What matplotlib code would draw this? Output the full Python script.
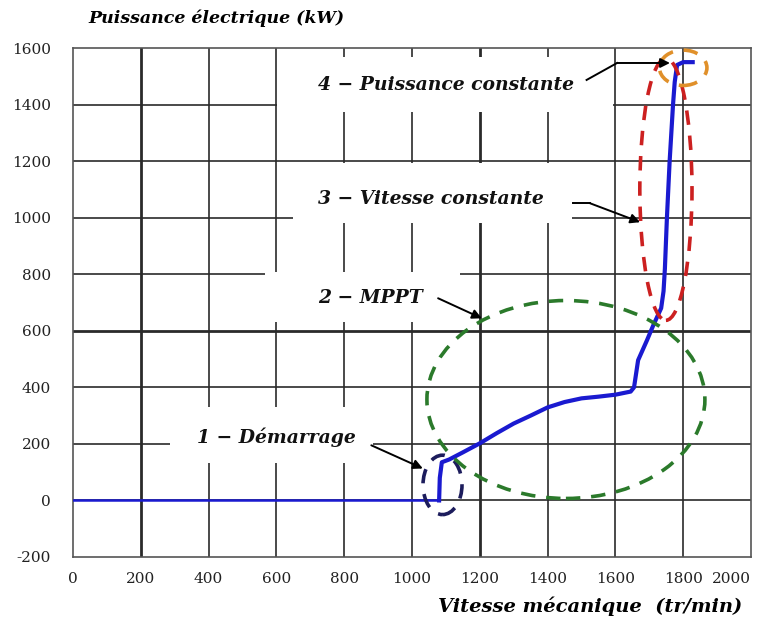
import matplotlib
matplotlib.use("Agg")
import matplotlib.pyplot as plt
from matplotlib.patches import Ellipse, Rectangle

# courbe puissance / vitesse
speed_idle = [0, 1080]
power_idle = [0, 0]
speed = [1080, 1082, 1088, 1110, 1150, 1200, 1250, 1300, 1350, 1400, 1450, 1500,
         1550, 1600, 1645, 1655, 1667, 1693, 1712, 1735, 1742, 1746, 1752, 1760,
         1770, 1775, 1782, 1800, 1828]
power = [0, 80, 135, 145, 170, 202, 238, 272, 300, 329, 348, 361,
         367, 374, 385, 400, 496, 566, 620, 680, 740, 820, 1000, 1200,
         1400, 1480, 1540, 1550, 1550]

xticks = list(range(0, 2001, 200))
yticks = list(range(-200, 1601, 200))
ytick_labels = [str(v) for v in yticks]

# zones (centre x, centre y, largeur, hauteur, couleur)
zones = [
    (1090, 55, 115, 210, '#1c1c5c'),
    (1454, 357, 820, 700, '#2b7a2b'),
    (1749, 1100, 154, 926, '#cc2020'),
    (1800, 1530, 140, 125, '#e0902a'),
]
labels = ['1 \u2212 Démarrage', '2 \u2212 MPPT', '3 \u2212 Vitesse constante',
          '4 \u2212 Puissance constante']
label_pos = [(366, 222), (723, 716), (723, 1066), (723, 1470)]
# fonds blancs derrière les étiquettes (x, y, largeur, hauteur)
label_bg = [(286, 131, 599, 198), (566, 630, 576, 177), (649, 981, 823, 212),
            (602, 1373, 991, 195)]
arrows = [
    [(880, 195), (1032, 113)],
    [(1077, 715), (1206, 644)],
    [(1475, 1051), (1525, 1051), (1673, 984)],
    [(1515, 1487), (1605, 1547), (1761, 1547)],
]

fig = plt.figure(figsize=(7.67, 6.24), dpi=100)
ax = fig.add_axes([73/767, 1-557/624, 678/767, 509/624])
ax.set_xlim(0, 2000)
ax.set_ylim(-200, 1600)

for x in xticks[1:-1]:
    lw = 2.0 if x in (200, 1200) else 1.2
    ax.axvline(x, color='#2a2a2a', lw=lw, zorder=1)
for y in yticks[1:-1]:
    lw = 2.0 if y == 600 else 1.2
    ax.axhline(y, color='#2a2a2a', lw=lw, zorder=1)

for (x0, y0, w, h) in label_bg:
    ax.add_patch(Rectangle((x0, y0), w, h, facecolor='white', edgecolor='none', zorder=2))

ax.plot(speed_idle, power_idle, color='#1a1ad0', lw=1.8, zorder=4)
ax.plot(speed, power, color='#1a1ad0', lw=3, zorder=4, solid_joinstyle='round')

for (cx, cy, w, h, c) in zones:
    ax.add_patch(Ellipse((cx, cy), w, h, fill=False, edgecolor=c, lw=2.6,
                         linestyle=(0, (4, 3)), zorder=5))

for pts in arrows:
    xs = [p[0] for p in pts]
    ys = [p[1] for p in pts]
    ax.plot(xs[:-1], ys[:-1], color='black', lw=1.4, zorder=6)
    ax.annotate('', xy=pts[-1], xytext=pts[-2],
                arrowprops=dict(arrowstyle='-|>', color='black', lw=1.4,
                                mutation_scale=14, shrinkA=0, shrinkB=0), zorder=6)

for txt, (tx, ty) in zip(labels, label_pos):
    ax.text(tx, ty, txt, fontsize=13.5, family='DejaVu Serif', style='italic',
            weight='bold', color='#111111', va='center', ha='left', zorder=7)

ax.set_xticks(xticks)
ax.set_yticks(yticks)
ax.set_yticklabels(ytick_labels)
ax.tick_params(length=0, labelsize=11, colors='#222222')
ax.tick_params(axis='x', pad=11)
ax.tick_params(axis='y', pad=16)
for lab in ax.get_xticklabels() + ax.get_yticklabels():
    lab.set_family('DejaVu Serif')
ax.get_xticklabels()[-1].set_horizontalalignment('right')
for s in ax.spines.values():
    s.set_color('#555555')
    s.set_linewidth(1.2)

fig.text(216/767, 1-18/624, 'Puissance électrique (kW)', fontsize=12.5, family='DejaVu Serif',
         style='italic', weight='bold', ha='center', va='center')
fig.text(590/767, 1-606/624, 'Vitesse mécanique  (tr/min)', fontsize=14, family='DejaVu Serif',
         style='italic', weight='bold', ha='center', va='center')

fig.savefig('out.png', dpi=100, facecolor='white')
